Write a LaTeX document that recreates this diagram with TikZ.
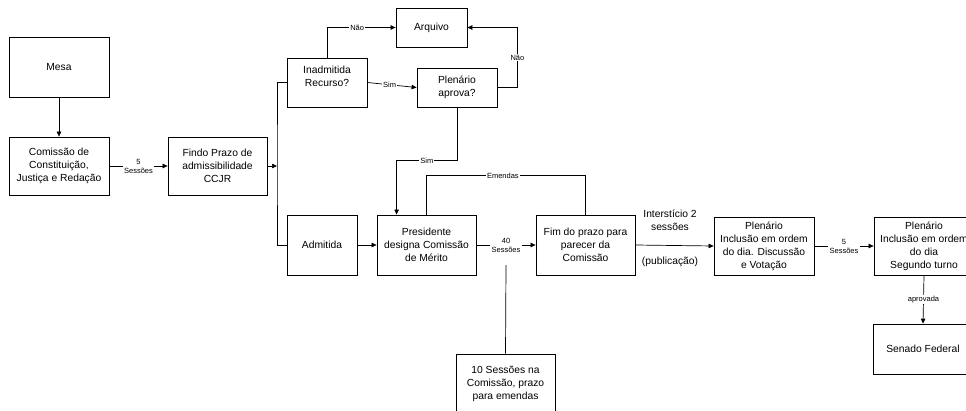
\documentclass[tikz,border=0pt]{standalone}
\usepackage{fontspec}
\setmainfont{Liberation Sans}
\usetikzlibrary{arrows.meta,calc}
\begin{document}
\begin{tikzpicture}[x=1pt,y=-1pt,
  box/.style={draw,line width=0.8pt,fill=white,align=center,inner sep=1pt,
    font=\fontsize{10.3}{13}\selectfont},
  txt/.style={align=center,inner sep=0pt,font=\fontsize{10.3}{13}\selectfont},
  lbl/.style={fill=white,align=center,inner sep=1.2pt,font=\fontsize{7.5}{9}\selectfont},
  conn/.style={line width=0.7pt},
  arr/.style={conn,-{Triangle[length=5pt,width=4.5pt]}}]
\useasboundingbox (0,0) rectangle (966,410);
\clip (0,0) rectangle (966,410);

% boxes
\node[box,minimum width=100pt,minimum height=60pt] (mesa) at (59,67) {Mesa};
\node[box,minimum width=100pt,minimum height=58pt] (ccj) at (59,166)
  {Comissão de\\Constituição,\\Justiça e Redação};
\node[box,minimum width=99pt,minimum height=58pt] (findo) at (217.5,166)
  {Findo Prazo de\\admissibilidade\\CCJR};
\node[box,minimum width=71pt,minimum height=39pt] (arq) at (431.5,27.5) {Arquivo};
\node[box,minimum width=80pt,minimum height=49pt] (inad) at (327,82.5) {};
\node[txt] (inadtxt) at (327,76) {Inadmitida\\Recurso?};
\node[box,minimum width=80pt,minimum height=39pt] (plen) at (457,87.5)
  {Plenário\\aprova?};
\node[box,minimum width=70pt,minimum height=60pt] (adm) at (322,245) {Admitida};
\node[box,minimum width=99pt,minimum height=60pt] (pres) at (426.5,245)
  {Presidente\\designa Comissão\\de Mérito};
\node[box,minimum width=99pt,minimum height=60pt] (fim) at (585.5,245)
  {Fim do prazo para\\parecer da\\Comissão};
\node[box,minimum width=100pt,minimum height=58pt] (plena) at (764,246)
  {Plenário\\Inclusão em ordem\\do dia. Discussão\\e Votação};
\node[box,minimum width=100pt,minimum height=58pt] (plenb) at (924,246)
  {Plenário\\Inclusão em ordem\\do dia\\Segundo turno};
\node[box,minimum width=100pt,minimum height=50pt] (senado) at (923,349)
  {Senado Federal};
\node[box,minimum width=99pt,minimum height=60pt] (emd) at (505.5,384)
  {10 Sessões na\\Comissão, prazo\\para emendas};

% connector points
\coordinate (bus) at (277,166);
\coordinate (presin) at ($(pres.north west)+(20,0)$);
\coordinate (presout) at ($(pres.north west)+(50,0)$);
\coordinate (emdtop) at (506,265);

% connectors
\draw[arr] (mesa) -- (ccj);
\draw[arr] (ccj) -- node[lbl] {5\\Sessões} (findo);
\draw[arr] (findo.east) -- (bus);
\draw[conn] (inad.west) -| (bus) |- (adm.west);
\draw[arr] (inad.north) |- node[lbl,pos=0.72] {Não} (arq.west);
\draw[arr] (inad.east) -- node[lbl,pos=0.45] {Sim} (plen.west);
\draw[arr] (plen.east) -- ++(20,0) |- node[lbl,pos=0.25] {Não} (arq.east);
\draw[arr] (plen.south) -- ++(0,53) -| node[lbl,pos=0.25] {Sim} (presin);
\draw[conn] (presout) -- ++(0,-39) -| node[lbl,pos=0.24] {Emendas} (fim.north);
\draw[arr] (adm) -- (pres);
\draw[arr] (pres) -- node[lbl] {40\\Sessões} (fim);
\draw[arr] (fim.east) -- (plena.west);
\node[txt] (inters) at (670,220) {Interstício 2\\sessões};
\node[txt] (publ) at (670,262) {(publicação)};
\draw[arr] (plena) -- node[lbl] {5\\Sessões} (plenb);
\draw[arr] (plenb.south) -- node[lbl] {aprovada} (senado.north);
\draw[conn] (emdtop) -- (emd.north);
\end{tikzpicture}
\end{document}
